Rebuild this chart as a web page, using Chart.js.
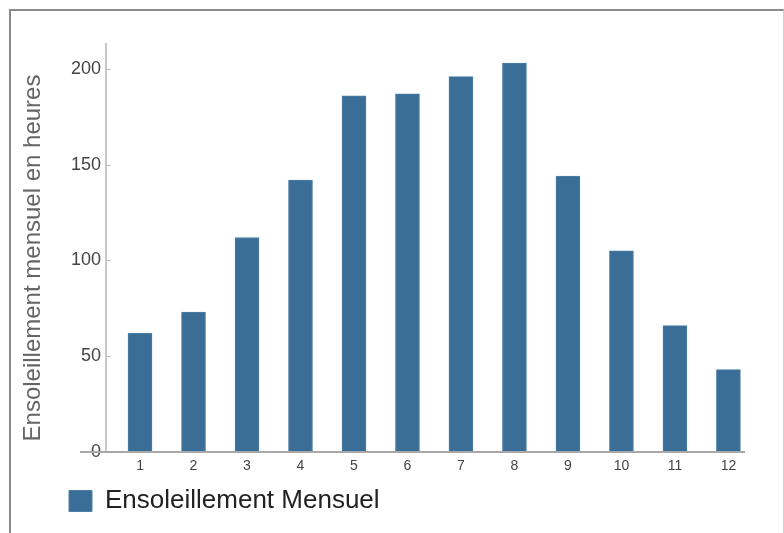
<!DOCTYPE html>
<html>
<head>
<meta charset="utf-8">
<script src="https://cdn.jsdelivr.net/npm/chart.js@4"></script>
<style>
  html, body { margin: 0; padding: 0; background: #fff; }
  #wrap { position: relative; width: 784px; height: 533px; overflow: hidden; }
  #frame { position: absolute; left: 9px; top: 9px; width: 772px; height: 540px;
           border-top: 2px solid #8a8a8a; border-left: 2px solid #8a8a8a; border-right: 1px solid #d0d0d0; }
  #chart { position: absolute; left: 0; top: 0; }
</style>
</head>
<body>
<div id="wrap">
  <div id="frame"></div>
  <canvas id="chart" width="784" height="533"></canvas>
</div>
<script>
// months and sunshine hours
const mois = [1, 2, 3, 4, 5, 6, 7, 8, 9, 10, 11, 12];
const heures = [62, 73, 112, 142, 186, 187, 196, 203, 144, 105, 66, 43];
const yTicks = [0, 50, 100, 150, 200];

const barColor = '#3a6e97';
const fontFam = '"Liberation Sans", Arial, sans-serif';

// axis lines + little inner tick marks
const axisExtras = {
    id: 'axisExtras',
    afterDatasetsDraw(chart) {
        const ctx = chart.ctx;
        const x = chart.scales.x, y = chart.scales.y;
        const y0 = Math.round(y.getPixelForValue(0));
        ctx.save();
        ctx.strokeStyle = '#c4c4c4';
        ctx.lineWidth = 1;
        yTicks.slice(1).forEach(v => {
            const py = Math.round(y.getPixelForValue(v)) + 0.5;
            ctx.beginPath();
            ctx.moveTo(x.left + 1, py);
            ctx.lineTo(x.left + 5, py);
            ctx.stroke();
        });
        ctx.strokeStyle = '#a8a8a8';
        ctx.lineWidth = 2;
        ctx.beginPath();
        ctx.moveTo(80, y0);
        ctx.lineTo(x.right, y0);
        ctx.stroke();
        ctx.restore();
    },
    afterLayout(chart) {
        chart.legend.left += 59;
    }
};

new Chart(document.getElementById('chart'), {
    type: 'bar',
    data: {
        datasets: [{
            label: 'Ensoleillement Mensuel',
            data: mois.map((m, i) => ({x: m, y: heures[i]})),
            backgroundColor: barColor,
            borderColor: '#4b7ea6',
            borderWidth: 1,
            barThickness: 24
        }]
    },
    plugins: [axisExtras],
    options: {
        responsive: false,
        animation: false,
        layout: {
            padding: {left: 0, right: 39, top: 44, bottom: 9}
        },
        scales: {
            x: {
                type: 'linear',
                offset: false,
                min: 0.364,
                max: 12.31,
                grid: {display: false, drawTicks: false},
                border: {display: false},
                ticks: {
                    stepSize: 1,
                    includeBounds: false,
                    padding: 6,
                    color: '#444',
                    font: {family: fontFam, size: 14}
                },
                afterFit: s => { s.height = 26; }
            },
            y: {
                min: 0,
                max: 213,
                grid: {display: false, drawTicks: false},
                border: {display: true, color: '#c8c8c8', width: 2},
                ticks: {
                    stepSize: 50,
                    includeBounds: false,
                    padding: 5,
                    color: '#444',
                    font: {family: fontFam, size: 18}
                },
                title: {
                    display: true,
                    text: 'Ensoleillement mensuel en heures   ',
                    color: '#666',
                    padding: {top: 19, bottom: 0},
                    font: {family: fontFam, size: 24}
                },
                afterFit: s => { s.width = 106; }
            }
        },
        plugins: {
            tooltip: {enabled: false},
            legend: {
                position: 'bottom',
                align: 'start',
                labels: {
                    boxWidth: 23,
                    boxHeight: 21,
                    padding: 10,
                    color: '#222',
                    font: {family: fontFam, size: 26}
                }
            }
        }
    }
});
</script>
</body>
</html>
